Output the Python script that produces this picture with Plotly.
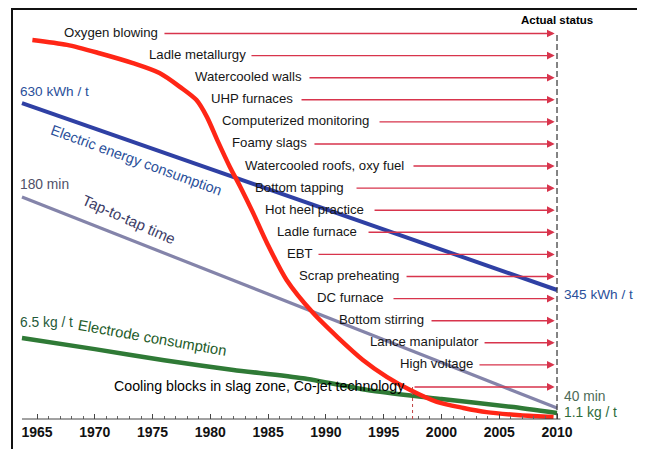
import plotly.graph_objects as go

# ---------------- data ----------------
years_energy = [1963.7, 2010]
energy_kwh = [630, 345]

years_tap = [1963.7, 2010]
tap_min = [180, 40]

years_electrode = [1963.7, 1970, 1976, 1982, 1988, 1994, 2000, 2006, 2010]
electrode_kg = [6.5, 5.7, 4.9, 4.2, 3.6, 2.7, 2.1, 1.55, 1.1]

years_innov = [1964.6, 1967.6, 1970.4, 1973.3, 1975.6, 1977.4, 1978.8, 1979.7, 1980.6,
               1981.7, 1982.6, 1983.7, 1984.9, 1986.6, 1988.9, 1991.0, 1993.2, 1995.3,
               1997.3, 1999.6, 2001.9, 2003.9, 2006.8, 2009.7]
innov_index = [99.5, 98.2, 96.0, 93.4, 90.8, 87.1, 83.7, 79.3, 73.2,
               66.1, 60.9, 54.1, 46.2, 36.5, 27.8, 21.5, 15.5, 11.0,
               7.6, 4.5, 2.9, 1.8, 1.0, 0.5]

innovations = ["Oxygen blowing", "Ladle metallurgy", "Watercooled walls", "UHP furnaces",
               "Computerized monitoring", "Foamy slags", "Watercooled roofs, oxy fuel",
               "Bottom tapping", "Hot heel practice", "Ladle furnace", "EBT",
               "Scrap preheating", "DC furnace", "Bottom stirring", "Lance manipulator",
               "High voltage", "Cooling blocks in slag zone, Co-jet technology"]

tick_years = list(range(1965, 2011, 5))
minor_years = list(range(1965, 2011))
tick_labels = [str(y) for y in tick_years]

# ---------------- layout constants ----------------
label_x = [1967.16, 1974.52, 1978.5, 1979.88, 1980.84, 1981.7, 1982.83, 1983.69, 1984.56,
           1985.6, 1986.46, 1987.5, 1989.06, 1990.96, 1993.64, 1996.24, 1971.49]
arrow_x0 = [1975.9, 1983.43, 1988.45, 1987.76, 1994.51, 1988.88, 1997.45, 1992.52, 1994.08,
            1993.56, 1989.23, 1996.85, 1995.72, 1999.01, 2003.6, 2003.16, 1997.54]
arrow_x1 = 2009.8

FONT = "Liberation Sans, Arial, sans-serif"
RED = "#ff2616"
BLUE = "#2f40a4"
GRAY = "#8484aa"
GREEN = "#2f7a36"
ARROW = "#d8344c"

fig = go.Figure()

fig.add_trace(go.Scatter(x=years_innov, y=innov_index, yaxis="y4", mode="lines",
                         line=dict(color=RED, width=4.5, shape="spline", smoothing=0.8),
                         hoverinfo="skip"))
fig.add_trace(go.Scatter(x=years_tap, y=tap_min, yaxis="y2", mode="lines",
                         line=dict(color=GRAY, width=3.2), hoverinfo="skip"))
fig.add_trace(go.Scatter(x=years_energy, y=energy_kwh, yaxis="y", mode="lines",
                         line=dict(color=BLUE, width=4), hoverinfo="skip"))
fig.add_trace(go.Scatter(x=years_electrode, y=electrode_kg, yaxis="y3", mode="lines",
                         line=dict(color=GREEN, width=4.5, shape="spline", smoothing=0.6),
                         hoverinfo="skip"))

annotations = []
for i, (name, lx, ax0) in enumerate(zip(innovations, label_x, arrow_x0)):
    last = (i == len(innovations) - 1)
    annotations.append(dict(
        x=lx, y=i, xref="x", yref="y5", text=name, showarrow=False,
        xanchor="left", yanchor="middle", yshift=1,
        font=dict(family=FONT, size=14.2 if last else 13.2,
                  color="#000000" if last else "#161616"),
    ))
    annotations.append(dict(
        x=arrow_x1, y=i, ax=ax0, ay=i, xref="x", yref="y5", axref="x", ayref="y5",
        text="", showarrow=True, arrowhead=2, arrowsize=1.1, arrowwidth=1.4,
        arrowcolor=ARROW, standoff=0, startstandoff=0,
    ))

annotations += [
    dict(x=2010, y=1, xref="x", yref="paper", text="Actual status", showarrow=False,
         xanchor="center", yanchor="middle", yshift=-11,
         font=dict(family=FONT, size=11.5, color="#000", weight="bold")),
    dict(x=1963.36, y=energy_kwh[0], xref="x", yref="y", text="630 kWh / t", showarrow=False,
         xanchor="left", yanchor="middle", yshift=12, font=dict(family=FONT, size=13.6, color="#2a4f9a")),
    dict(x=1963.36, y=tap_min[0], xref="x", yref="y2", text="180 min", showarrow=False,
         xanchor="left", yanchor="middle", yshift=13, font=dict(family=FONT, size=13.8, color="#505068")),
    dict(x=1963.36, y=electrode_kg[0], xref="x", yref="y3", text="6.5 kg / t", showarrow=False,
         xanchor="left", yanchor="middle", yshift=16, font=dict(family=FONT, size=13.8, color="#1f5a3a")),
    dict(x=2010.45, y=energy_kwh[-1], xref="x", yref="y", text="345 kWh / t", showarrow=False,
         xanchor="left", yanchor="middle", yshift=-4, font=dict(family=FONT, size=13.6, color="#2a4f9a")),
    dict(x=2010.45, y=tap_min[-1], xref="x", yref="y2", text="40 min", showarrow=False,
         xanchor="left", yanchor="middle", yshift=12, font=dict(family=FONT, size=13.8, color="#4d6b58")),
    dict(x=2010.45, y=electrode_kg[-1], xref="x", yref="y3", text="1.1 kg / t", showarrow=False,
         xanchor="left", yanchor="middle", yshift=1, font=dict(family=FONT, size=13.8, color="#2d6b3a")),
    dict(x=1973.57, y=0.6317, xref="x", yref="paper", text="Electric energy consumption",
         showarrow=False, textangle=20, font=dict(family=FONT, size=14.4, color="#2a4f9a")),
    dict(x=1973.0, y=0.487, xref="x", yref="paper", text="Tap-to-tap time",
         showarrow=False, textangle=24, font=dict(family=FONT, size=15, color="#3c3c66")),
    dict(x=1975.0, y=0.14, xref="x", yref="paper", text="Electrode consumption",
         showarrow=False, textangle=10, font=dict(family=FONT, size=14.8, color="#1e5c2a")),
]

shapes = [
    # frame
    dict(type="rect", xref="paper", yref="paper", x0=0, x1=1, y0=-0.2, y1=1,
         line=dict(color="#111", width=2), layer="above"),
    # x axis line
    dict(type="line", xref="x", yref="paper", x0=1963.7, x1=2010.3, y0=0, y1=0,
         line=dict(color="#444", width=1)),
    # actual status dashed line
    dict(type="line", xref="x", yref="paper", x0=2010, x1=2010, y0=0, y1=0.9415,
         line=dict(color="#333", width=1.2, dash="6px,3px")),
    # small dotted marker
    dict(type="line", xref="x", yref="paper", x0=1997.5, x1=1997.5, y0=0, y1=0.078,
         line=dict(color="#c04040", width=1, dash="dot")),
]

hidden = dict(visible=False, showgrid=False, zeroline=False, fixedrange=True)
# the page body has an 8px default margin; figure sized/margined to compensate
fig.update_layout(
    width=637, height=441,
    margin=dict(l=4, r=7, t=1, b=30),
    paper_bgcolor="white", plot_bgcolor="white",
    showlegend=False,
    xaxis=dict(range=[1962.8365, 2017.009], showgrid=False, zeroline=False, showline=False,
               tickmode="array", tickvals=tick_years, ticktext=tick_labels,
               ticks="inside", ticklen=5, tickcolor="#444", tickwidth=1,
               minor=dict(tickmode="array", tickvals=minor_years, ticks="inside",
                          ticklen=3, tickcolor="#666", tickwidth=1),
               tickfont=dict(family=FONT, size=14, color="#111", weight="bold"),
               ticklabelstandoff=3),
    yaxis=dict(range=[148.4, 773.3], **hidden),
    yaxis2=dict(range=[32.70, 304.74], overlaying="y", **hidden),
    yaxis3=dict(range=[0.668, 30.19], overlaying="y", **hidden),
    yaxis4=dict(range=[0, 107.61], overlaying="y", **hidden),
    yaxis5=dict(range=[17.451, -1.109], overlaying="y", **hidden),
    annotations=annotations,
    shapes=shapes,
)

fig.write_html("out.html")
